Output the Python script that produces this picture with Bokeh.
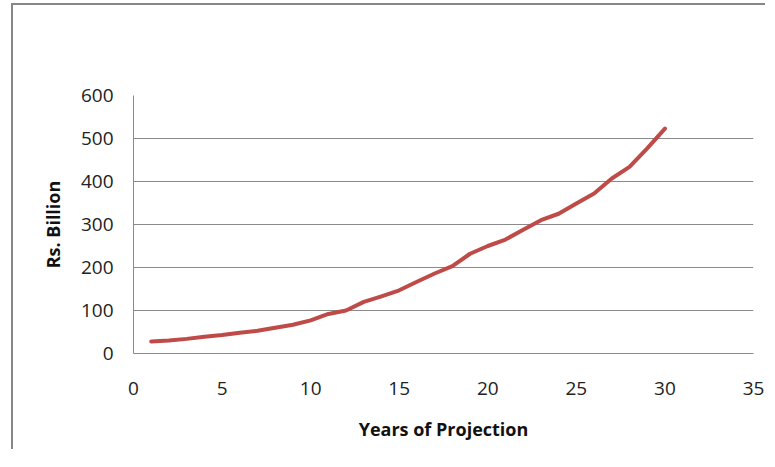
from bokeh.plotting import figure
from bokeh.models import Range1d, FixedTicker
from bokeh.embed import file_html
from bokeh.resources import INLINE

years = list(range(1, 31))
values = [28, 30, 34, 39, 43, 48, 53, 60, 67, 77,
          92, 100, 120, 133, 147, 167, 186, 203, 232, 250,
          265, 288, 310, 325, 349, 372, 407, 434, 477, 523]
x_ticks = [0, 5, 10, 15, 20, 25, 30, 35]
y_ticks = [0, 100, 200, 300, 400, 500, 600]

FONT = "Open Sans"
GRID = "#8a8a8a"

p = figure(width=754, height=446, output_backend="svg", toolbar_location=None,
           x_range=Range1d(0, 35), y_range=Range1d(0, 600),
           min_border_left=120, min_border_right=14, min_border_top=90, min_border_bottom=98)
p.styles = {"margin-left": "11px", "margin-top": "3px",
            "border-left": "2px solid #878787", "border-top": "2px solid #878787"}
p.background_fill_color = "white"
p.border_fill_color = "white"
p.outline_line_color = None

p.xaxis.ticker = FixedTicker(ticks=x_ticks)
p.yaxis.ticker = FixedTicker(ticks=y_ticks)
for ax in (p.xaxis[0], p.yaxis[0]):
    ax.axis_line_color = GRID
    ax.axis_line_width = 1
    ax.major_tick_line_color = None
    ax.minor_tick_line_color = None
    ax.major_tick_out = 0
    ax.major_tick_in = 0
    ax.major_label_text_font = FONT
    ax.major_label_text_font_size = "19px"
    ax.major_label_text_color = "#222222"
    ax.axis_label_text_font = FONT
    ax.axis_label_text_font_size = "18px"
    ax.axis_label_text_font_style = "bold"
    ax.axis_label_text_color = "#111111"

p.xaxis.major_label_standoff = 28
p.yaxis.major_label_standoff = 20
p.xaxis.axis_label = "Years of Projection"
p.yaxis.axis_label = "Rs. Billion"
p.xaxis.axis_label_standoff = 19
p.yaxis.axis_label_standoff = 13

p.xgrid.grid_line_color = None
p.ygrid.grid_line_color = GRID
p.ygrid.grid_line_width = 1

p.line(years, values, line_color="#BE4B48", line_width=4, line_join="round", line_cap="round")

open("out.html", "w").write(file_html(p, INLINE))
